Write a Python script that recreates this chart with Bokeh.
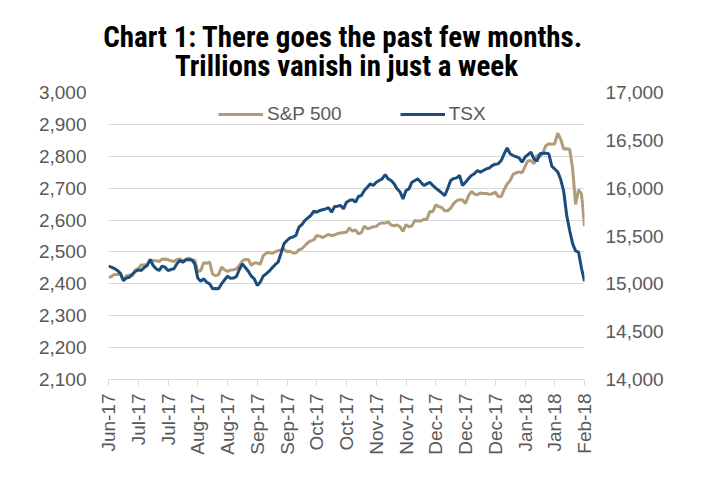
from bokeh.plotting import figure
from bokeh.models import (Range1d, LinearAxis, FixedTicker, NumeralTickFormatter, Title)
from bokeh.embed import file_html
from bokeh.resources import INLINE

# ---- data (one value per weekday, Jun-29-2017 .. Feb-08-2018) ----
sp500 = [
    2419.70, 2423.41,
    2429.01, 2429.01, 2432.54, 2409.75, 2425.18,
    2427.43, 2425.53, 2443.25, 2447.83, 2459.27,
    2459.14, 2460.61, 2473.83, 2473.45, 2472.54,
    2469.91, 2477.13, 2477.83, 2475.42, 2472.10,
    2470.30, 2476.35, 2477.57, 2472.16, 2476.83,
    2480.91, 2474.92, 2474.02, 2438.21, 2441.32,
    2465.84, 2464.61, 2468.11, 2430.01, 2425.55,
    2428.37, 2452.51, 2444.04, 2438.97, 2443.05,
    2444.24, 2446.30, 2457.59, 2471.65, 2476.55,
    2476.55, 2457.85, 2465.54, 2465.10, 2461.43,
    2488.11, 2496.48, 2498.37, 2495.62, 2500.23,
    2503.87, 2506.65, 2508.24, 2500.60, 2502.22,
    2496.66, 2496.84, 2507.04, 2510.06, 2519.36,
    2529.12, 2534.58, 2537.74, 2552.07, 2549.33,
    2544.73, 2550.64, 2555.24, 2550.93, 2553.17,
    2557.64, 2559.36, 2561.26, 2562.10, 2575.21,
    2564.98, 2569.13, 2557.15, 2560.40, 2581.07,
    2572.83, 2575.26, 2579.36, 2579.85, 2587.84,
    2591.13, 2590.64, 2594.38, 2584.62, 2582.30,
    2584.84, 2578.87, 2564.62, 2585.64, 2578.85,
    2582.14, 2599.03, 2597.08, 2597.08, 2602.42,
    2601.42, 2627.04, 2626.07, 2647.58, 2642.22,
    2639.44, 2629.57, 2629.27, 2636.98, 2651.50,
    2659.99, 2664.11, 2662.85, 2652.01, 2675.81,
    2690.16, 2681.47, 2679.25, 2684.57, 2683.34,
    2683.34, 2680.50, 2682.62, 2687.54, 2673.61,
    2673.61, 2695.81, 2713.06, 2723.99, 2743.15,
    2747.71, 2751.29, 2748.23, 2767.56, 2786.24,
    2786.24, 2776.42, 2802.56, 2798.03, 2810.30,
    2832.97, 2839.13, 2837.54, 2839.25, 2872.87,
    2853.53, 2822.43, 2823.81, 2821.98, 2762.13,
    2648.94, 2695.14, 2681.66, 2581.00,
]

tsx = [
    15185, 15175, 15160, 15140, 15110, 15035, 15060, 15069, 15100, 15129,
    15146, 15139, 15170, 15192, 15255, 15192, 15157, 15139, 15185, 15174,
    15139, 15150, 15157, 15209, 15244, 15226, 15251, 15251, 15250, 15209,
    15060, 15027, 15052, 15017, 15000, 14948, 14950, 14948, 15000, 15040,
    15080, 15059, 15060, 15077, 15150, 15209, 15170, 15132, 15080, 15052,
    14983, 15017, 15080, 15105, 15132, 15167, 15200, 15226, 15320, 15420,
    15453, 15481, 15490, 15505, 15592, 15620, 15662, 15690, 15714, 15759,
    15749, 15766, 15775, 15784, 15795, 15749, 15808, 15812, 15819, 15784,
    15853, 15871, 15880, 15853, 15913, 15923, 15976, 16010, 16045, 16028,
    16062, 16080, 16097, 16143, 16097, 16080, 16045, 15993, 15960, 15888,
    15976, 15993, 16062, 16080, 16097, 16062, 16028, 16045, 16062, 16028,
    16000, 15976, 15950, 15923, 15993, 16080, 16100, 16108, 16132, 16028,
    16062, 16100, 16132, 16150, 16185, 16167, 16185, 16202, 16210, 16237,
    16250, 16254, 16289, 16359, 16422, 16359, 16341, 16330, 16317, 16271,
    16324, 16350, 16376, 16307, 16282, 16359, 16365, 16365, 16360, 16230,
    16200, 16170, 16090, 15970, 15720, 15560, 15420, 15345, 15331, 15160,
    15027,
]

tick_labels = ["Jun-17", "Jul-17", "Jul-17", "Aug-17", "Aug-17", "Sep-17", "Sep-17",
               "Oct-17", "Oct-17", "Nov-17", "Nov-17", "Dec-17", "Dec-17", "Dec-17",
               "Jan-18", "Jan-18", "Feb-18"]
tick_every = 10  # weekdays between labelled ticks

left_ticks = list(range(2100, 3001, 100))
right_ticks = list(range(14000, 17001, 500))

title_lines = ["Chart 1:  There goes the past few months.",
               "Trillions vanish in just a week"]

# ---- figure ----
x = list(range(len(sp500)))
n = len(sp500) - 1
xticks = list(range(0, n + 1, tick_every))

GRAY = "#595959"
GRID = "#D9D9D9"
SP_COL = "#B09C78"
TSX_COL = "#1A4C7C"
TICK_FONT = "'Liberation Sans', Arial, sans-serif"
TITLE_FONT = "'Liberation Sans Narrow', 'Arial Narrow', 'Roboto Condensed', 'Liberation Sans', sans-serif"

p = figure(frame_width=476, frame_height=287,
           min_border_left=108, min_border_right=136, min_border_top=92, min_border_bottom=113,
           x_range=Range1d(0, n), y_range=Range1d(2100, 3000),
           output_backend="svg", toolbar_location=None, title=None,
           background_fill_color="white", border_fill_color="white")
p.outline_line_color = None

p.extra_y_ranges = {"tsx": Range1d(14000, 17000)}

# titles (first added is nearest to the frame)
t2 = Title(text=title_lines[1], align="center",
           text_font=TITLE_FONT, text_font_size="29px", text_font_style="bold",
           text_color="#000000", standoff=20)
t1 = Title(text=title_lines[0], align="center",
           text_font=TITLE_FONT, text_font_size="29px", text_font_style="bold",
           text_color="#000000", standoff=-34)
p.add_layout(t2, "above")
p.add_layout(t1, "above")

# lines
p.line(x, sp500, line_color=SP_COL, line_width=3, legend_label="S&P 500")
p.line(x, tsx, line_color=TSX_COL, line_width=3, y_range_name="tsx", legend_label="TSX")

# x axis
xa = p.xaxis[0]
xa.ticker = FixedTicker(ticks=xticks)
xa.major_label_overrides = {t_: lab for t_, lab in zip(xticks, tick_labels)}
xa.major_label_orientation = 3.14159265 / 2
xa.axis_line_color = GRID
xa.major_tick_line_color = GRID
xa.major_tick_out = 6
xa.major_tick_in = 0
xa.minor_tick_line_color = None
xa.major_label_text_font = TICK_FONT
xa.major_label_text_font_size = "19px"
xa.major_label_text_color = GRAY
xa.major_label_standoff = 8

# left axis
ya = p.yaxis[0]
ya.ticker = FixedTicker(ticks=left_ticks)
ya.formatter = NumeralTickFormatter(format="0,0")
ya.axis_line_color = None
ya.major_tick_line_color = None
ya.minor_tick_line_color = None
ya.major_label_text_font = TICK_FONT
ya.major_label_text_font_size = "19px"
ya.major_label_text_color = GRAY
ya.major_label_standoff = 16

# right axis
ra = LinearAxis(y_range_name="tsx", ticker=FixedTicker(ticks=right_ticks),
                formatter=NumeralTickFormatter(format="0,0"))
ra.axis_line_color = None
ra.major_tick_line_color = None
ra.minor_tick_line_color = None
ra.major_label_text_font = TICK_FONT
ra.major_label_text_font_size = "19px"
ra.major_label_text_color = GRAY
ra.major_label_standoff = 15
p.add_layout(ra, "right")

# grid
p.xgrid.grid_line_color = None
p.ygrid.ticker = FixedTicker(ticks=left_ticks)
p.ygrid.grid_line_color = GRID
p.ygrid.grid_line_width = 1

# legend
lg = p.legend[0]
lg.orientation = "horizontal"
lg.location = (110, 254)
lg.glyph_width = 45
lg.glyph_height = 20
lg.label_standoff = 4
lg.spacing = 58
lg.padding = 0
lg.margin = 0
lg.border_line_color = None
lg.background_fill_alpha = 0
lg.label_text_font = TICK_FONT
lg.label_text_font_size = "19px"
lg.label_text_color = GRAY

open("out.html", "w").write(file_html(p, INLINE))
